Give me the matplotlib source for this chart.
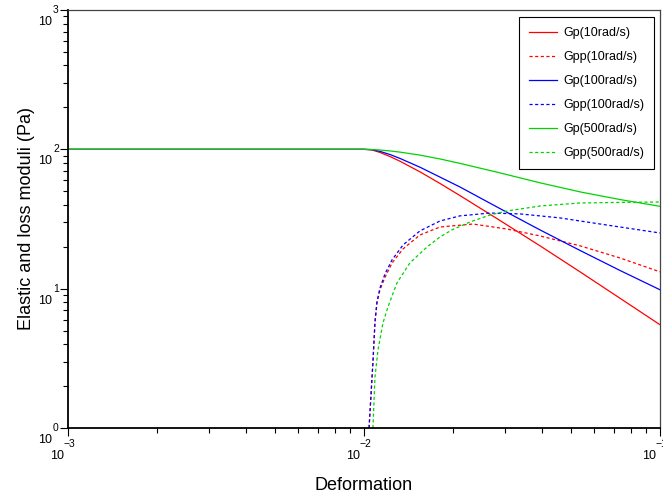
import matplotlib
matplotlib.use("Agg")
import matplotlib.pyplot as plt
from matplotlib.ticker import LogLocator, NullFormatter

plt.rcParams['font.family'] = ['Liberation Sans', 'DejaVu Sans']

# strain grid for the storage moduli
strain_gp = [0.001, 0.01, 0.01064, 0.01132, 0.01224, 0.01324, 0.01546, 0.01806,
             0.02109, 0.02877, 0.03933, 0.0537, 0.0733, 0.1]
gp_10 = [100, 100, 99.0, 95.0, 88.8, 82.1, 68.9, 56.9, 46.6, 30.9, 20.3,
         13.2, 8.53, 5.51]
gp_100 = [100, 100, 99.5, 96.7, 91.8, 86.0, 74.4, 63.2, 53.7, 37.6, 26.4,
          18.8, 13.5, 9.82]
gp_500 = [100, 100, 99.7, 98.9, 97.4, 95.5, 90.9, 85.3, 79.3, 67.8, 57.5,
          49.5, 43.6, 39.0]

# loss moduli
strain_gpp_10 = [0.0104, 0.01072, 0.01089, 0.01106, 0.01132, 0.01178, 0.01244,
                 0.01355, 0.01546, 0.01806, 0.02334, 0.03041, 0.03933,
                 0.0537, 0.0733, 0.1]
gpp_10 = [1.0, 2.93, 5.67, 7.89, 9.79, 12.1, 15.3, 19.3, 24.3, 27.7, 29.1,
          26.8, 23.9, 20.3, 16.6, 13.2]

strain_gpp_100 = [0.0104, 0.01072, 0.01089, 0.01106, 0.01132, 0.01178, 0.01244,
                  0.01355, 0.01546, 0.01806, 0.02109, 0.02667, 0.03366,
                  0.04596, 0.0537, 0.0733, 0.1]
gpp_100 = [1.0, 2.98, 5.77, 8.03, 10.1, 12.8, 16.1, 20.6, 26.0, 30.6, 33.3,
           34.9, 34.4, 32.2, 30.6, 27.7, 25.1]

strain_gpp_500 = [0.01072, 0.01089, 0.01115, 0.01159, 0.01205, 0.01292, 0.01429,
                  0.01632, 0.01806, 0.01982, 0.0228, 0.02667, 0.03041,
                  0.03933, 0.0537, 0.0733, 0.1]
gpp_500 = [1.0, 2.32, 3.63, 5.67, 7.39, 11.0, 15.3, 19.9, 23.5, 26.4, 30.1,
           33.8, 36.1, 39.2, 41.2, 41.6, 41.9]

RED = '#ff0000'
BLUE = '#0000ff'
GREEN = '#00d400'
dots = (2.5, 2.0)

fig = plt.figure(figsize=(6.63, 5.0), dpi=100)
ax = fig.add_axes([68 / 663, 72 / 500, 592 / 663, 418 / 500])

ax.plot(strain_gp, gp_10, color=RED, lw=0.9, label='Gp(10rad/s)')
ax.plot(strain_gpp_10, gpp_10, color=RED, lw=0.9, dashes=dots, label='Gpp(10rad/s)')
ax.plot(strain_gp, gp_100, color=BLUE, lw=0.9, label='Gp(100rad/s)')
ax.plot(strain_gpp_100, gpp_100, color=BLUE, lw=0.9, dashes=dots, label='Gpp(100rad/s)')
ax.plot(strain_gp, gp_500, color=GREEN, lw=0.9, label='Gp(500rad/s)')
ax.plot(strain_gpp_500, gpp_500, color=GREEN, lw=0.9, dashes=dots, label='Gpp(500rad/s)')

ax.set_xscale('log')
ax.set_yscale('log')
ax.set_xlim(1e-3, 1e-1)
ax.set_ylim(1, 1000)

ax.xaxis.set_major_locator(LogLocator(base=10, numticks=10))
ax.yaxis.set_major_locator(LogLocator(base=10, numticks=10))
ax.xaxis.set_minor_locator(LogLocator(base=10, subs=range(2, 10), numticks=20))
ax.yaxis.set_minor_locator(LogLocator(base=10, subs=range(2, 10), numticks=20))
ax.xaxis.set_major_formatter(NullFormatter())
ax.yaxis.set_major_formatter(NullFormatter())
ax.xaxis.set_minor_formatter(NullFormatter())
ax.yaxis.set_minor_formatter(NullFormatter())
ax.tick_params(which='major', direction='out', length=6, width=0.8, color='black')
ax.tick_params(which='minor', direction='out', length=3.5, width=0.8, color='black')
ax.tick_params(top=False, right=False)

for side in ['left', 'bottom']:
    ax.spines[side].set_linewidth(1.3)
    ax.spines[side].set_color('black')
for side in ['top', 'right']:
    ax.spines[side].set_linewidth(0.9)
    ax.spines[side].set_color('#444444')

# scilab-like "10 with exponent" tick labels
x_exps = [-3, -2, -1]
y_exps = [0, 1, 2, 3]
for e in x_exps:
    ax.annotate('10', xy=(10.0 ** e, 0), xycoords=('data', 'axes fraction'),
                xytext=(-4, -28), textcoords='offset pixels',
                ha='right', va='center', fontsize=9, annotation_clip=False)
    ax.annotate(str(e).replace('-', '\u2212'), xy=(10.0 ** e, 0),
                xycoords=('data', 'axes fraction'),
                xytext=(-5, -16), textcoords='offset pixels',
                ha='left', va='center', fontsize=7.5, annotation_clip=False)
for e in y_exps:
    ax.annotate('10', xy=(0, 10.0 ** e), xycoords=('axes fraction', 'data'),
                xytext=(-16, -12), textcoords='offset pixels',
                ha='right', va='center', fontsize=9, annotation_clip=False)
    ax.annotate(str(e), xy=(0, 10.0 ** e), xycoords=('axes fraction', 'data'),
                xytext=(-15, 0), textcoords='offset pixels',
                ha='left', va='center', fontsize=7.5, annotation_clip=False)

ax.set_xlabel('Deformation', fontsize=13, labelpad=26)
ax.set_ylabel('Elastic and loss moduli (Pa)', fontsize=13, labelpad=14)

leg = ax.legend(loc='upper right', bbox_to_anchor=(0.990, 0.983),
                borderaxespad=0, fontsize=9, frameon=True, fancybox=False,
                edgecolor='black', framealpha=1, handlelength=2.2,
                handletextpad=0.5, labelspacing=0.96, borderpad=0.8)
leg.get_frame().set_linewidth(0.8)

fig.savefig('out.png', dpi=100)
